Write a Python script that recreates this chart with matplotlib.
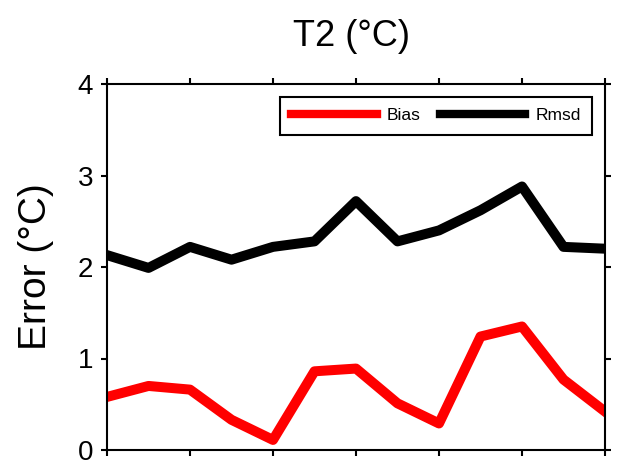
import matplotlib
matplotlib.use("Agg")
import matplotlib.pyplot as plt
import numpy as np

plt.rcParams['font.family'] = ['Liberation Sans', 'DejaVu Sans']

# values (13 steps along x)
steps = np.arange(13)
bias = [0.58, 0.70, 0.66, 0.33, 0.11, 0.86, 0.89, 0.51, 0.29, 1.24, 1.35, 0.77, 0.42]
rmsd = [2.13, 1.99, 2.22, 2.08, 2.22, 2.28, 2.72, 2.28, 2.40, 2.62, 2.88, 2.22, 2.20]
y_ticks = [0, 1, 2, 3, 4]
x_ticks = [0, 2, 4, 6, 8, 10, 12]

fig = plt.figure(figsize=(6.42, 4.68), dpi=100)
W, H = 642, 468
left, right, top, bottom = 107, 605, 84, 450
ax = fig.add_axes([left / W, 1 - bottom / H, (right - left) / W, (bottom - top) / H])

ax.plot(steps, bias, color='#ff0000', lw=7.2, label='Bias')
ax.plot(steps, rmsd, color='black', lw=7.2, label='Rmsd')

ax.set_xlim(0, 12)
ax.set_ylim(0, 4)
ax.set_xticks(x_ticks)
ax.set_xticklabels([])
ax.set_yticks(y_ticks)
ax.set_yticklabels([str(v) for v in y_ticks], fontsize=20)
ax.tick_params(direction='out', length=4, width=1.5, top=True, right=True, pad=6)
for sp in ax.spines.values():
    sp.set_linewidth(1.5)

leg = ax.legend(loc='upper right', bbox_to_anchor=(0.974, 0.9645), borderaxespad=0,
                ncol=2, fontsize=12.5, handlelength=4.9, handletextpad=0.6,
                columnspacing=1.1, borderpad=0.65, fancybox=False,
                edgecolor='black', framealpha=1)
leg.get_frame().set_linewidth(1.5)
for ln in leg.get_lines():
    ln.set_linewidth(6)

fig.text(352 / W, 1 - 46 / H, 'T2 (°C)', fontsize=26, ha='center', va='baseline')
fig.text(35.5 / W, 1 - 267 / H, 'Error (°C)', fontsize=28, rotation=90,
         ha='center', va='center')

fig.savefig('out.png', dpi=100)
